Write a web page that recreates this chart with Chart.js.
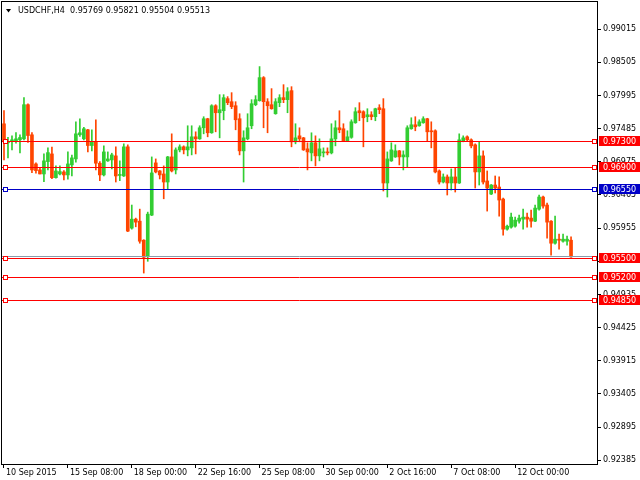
<!DOCTYPE html>
<html>
<head>
<meta charset="utf-8">
<title>USDCHF H4</title>
<script src="https://cdn.jsdelivr.net/npm/chart.js@4.4.0/dist/chart.umd.min.js"></script>
<style>
  html, body { margin: 0; padding: 0; background: #fff; }
  #wrap { width: 640px; height: 480px; }
</style>
</head>
<body>
<div id="wrap"><canvas id="myChart" width="640" height="480"></canvas></div>
<script>
const symbolTitle = "USDCHF,H4";

// H4 candles, 10 Sep 2015 16:00 .. 13 Oct 2015 08:00
const opens = [0.97559, 0.97267, 0.97287, 0.97298, 0.97313, 0.97328, 0.97853, 0.97390, 0.96942, 0.96850,
    0.96788, 0.96978, 0.97096, 0.96731, 0.96788, 0.96819, 0.96773, 0.96927, 0.97019, 0.97390,
    0.97328, 0.97467, 0.97225, 0.97287, 0.96953, 0.96773, 0.96989, 0.97004, 0.97066, 0.96765,
    0.96757, 0.97205, 0.95955, 0.96093, 0.96062, 0.95769, 0.95523, 0.96155, 0.96958, 0.96834,
    0.96788, 0.96664, 0.97050, 0.96850, 0.97158, 0.97205, 0.97158, 0.97189, 0.97359, 0.97328,
    0.97498, 0.97637, 0.97421, 0.97837, 0.97729, 0.97760, 0.97946, 0.97899, 0.97837, 0.97637,
    0.97143, 0.97328, 0.97529, 0.97853, 0.97915, 0.98269, 0.97899, 0.97853, 0.97714, 0.97884,
    0.97961, 0.97930, 0.98069, 0.97282, 0.97374, 0.97343, 0.97174, 0.97112, 0.97267, 0.97066,
    0.97112, 0.97127, 0.97112, 0.97328, 0.97498, 0.97483, 0.97298, 0.97351, 0.97575, 0.97760,
    0.97745, 0.97668, 0.97698, 0.97668, 0.97807, 0.97791, 0.96649, 0.96989, 0.97050, 0.97143,
    0.97050, 0.97050, 0.97483, 0.97544, 0.97529, 0.97575, 0.97637, 0.97452, 0.97452, 0.96834,
    0.96664, 0.96742, 0.96649, 0.96742, 0.96649, 0.97298, 0.97359, 0.97313, 0.97236, 0.96819,
    0.97066, 0.96680, 0.96479, 0.96618, 0.96587, 0.96402, 0.95939, 0.95970, 0.95985, 0.96062,
    0.96093, 0.96124, 0.96109, 0.96062, 0.96247, 0.96433, 0.96310, 0.96062, 0.95723, 0.95785,
    0.95754, 0.95754, 0.95769];
const highs = [0.97761, 0.97351, 0.97374, 0.97425, 0.97390, 0.97961, 0.97868, 0.97425, 0.96958, 0.96885,
    0.97096, 0.97189, 0.97200, 0.96912, 0.96912, 0.96839, 0.97127, 0.97077, 0.97590, 0.97637,
    0.97503, 0.97475, 0.97467, 0.97621, 0.96978, 0.97220, 0.97127, 0.97107, 0.97205, 0.96989,
    0.97251, 0.97236, 0.96310, 0.96109, 0.96247, 0.95777, 0.96201, 0.97050, 0.97019, 0.96842,
    0.96912, 0.97058, 0.97405, 0.97189, 0.97236, 0.97220, 0.97529, 0.97529, 0.97436, 0.97529,
    0.97668, 0.97644, 0.97853, 0.97853, 0.98007, 0.98007, 0.97977, 0.98038, 0.97899, 0.97714,
    0.97452, 0.97714, 0.97930, 0.97992, 0.98439, 0.98285, 0.97946, 0.98100, 0.97946, 0.98007,
    0.98161, 0.98115, 0.98130, 0.97560, 0.97498, 0.97351, 0.97267, 0.97421, 0.97374, 0.97328,
    0.97189, 0.97189, 0.97560, 0.97606, 0.97760, 0.97560, 0.97452, 0.97621, 0.97807, 0.97884,
    0.97760, 0.97791, 0.97745, 0.97799, 0.97853, 0.97946, 0.97127, 0.97267, 0.97236, 0.97150,
    0.97143, 0.97529, 0.97652, 0.97668, 0.97621, 0.97668, 0.97644, 0.97590, 0.97467, 0.96850,
    0.96788, 0.96773, 0.96865, 0.96881, 0.97405, 0.97374, 0.97374, 0.97328, 0.97251, 0.97282,
    0.97143, 0.96834, 0.96626, 0.96757, 0.96742, 0.96417, 0.96001, 0.96186, 0.96124, 0.96155,
    0.96247, 0.96186, 0.96232, 0.96310, 0.96464, 0.96448, 0.96340, 0.96070, 0.96140, 0.95862,
    0.95862, 0.95831, 0.95821];
const lows = [0.97004, 0.97035, 0.97158, 0.97262, 0.97112, 0.97313, 0.97271, 0.96808, 0.96799, 0.96788,
    0.96669, 0.96850, 0.96716, 0.96722, 0.96773, 0.96695, 0.96706, 0.96757, 0.96969, 0.97364,
    0.97313, 0.97127, 0.97143, 0.96850, 0.96685, 0.96757, 0.96981, 0.96865, 0.96664, 0.96685,
    0.96749, 0.95901, 0.95939, 0.95975, 0.95723, 0.95264, 0.95445, 0.96147, 0.96804, 0.96711,
    0.96406, 0.96557, 0.96819, 0.96788, 0.97127, 0.97096, 0.97066, 0.97081, 0.97096, 0.97320,
    0.97405, 0.97359, 0.97413, 0.97436, 0.97343, 0.97621, 0.97853, 0.97791, 0.97467, 0.97081,
    0.96664, 0.97313, 0.97483, 0.97837, 0.97907, 0.97498, 0.97421, 0.97783, 0.97706, 0.97822,
    0.97884, 0.97729, 0.97205, 0.97251, 0.97282, 0.97150, 0.96850, 0.96989, 0.96912, 0.96989,
    0.97050, 0.97081, 0.97096, 0.97220, 0.97421, 0.97290, 0.97290, 0.97336, 0.97567, 0.97606,
    0.97205, 0.97590, 0.97621, 0.97606, 0.97714, 0.96526, 0.96433, 0.96981, 0.97042, 0.96927,
    0.96850, 0.96896, 0.97475, 0.97452, 0.97521, 0.97567, 0.97298, 0.97189, 0.96804, 0.96633,
    0.96649, 0.96464, 0.96541, 0.96510, 0.96641, 0.97282, 0.97298, 0.97189, 0.96572, 0.96618,
    0.96633, 0.96217, 0.96471, 0.96495, 0.96140, 0.95846, 0.95924, 0.95955, 0.95970, 0.96031,
    0.95939, 0.95970, 0.95970, 0.96054, 0.96232, 0.96263, 0.95800, 0.95538, 0.95708, 0.95630,
    0.95739, 0.95692, 0.95504];
const closes = [0.97282, 0.97290, 0.97313, 0.97328, 0.97348, 0.97853, 0.97379, 0.96850, 0.96839, 0.96788,
    0.96989, 0.97116, 0.96731, 0.96834, 0.96824, 0.96773, 0.96942, 0.97035, 0.97405, 0.97421,
    0.97483, 0.97225, 0.97287, 0.96953, 0.96773, 0.97127, 0.97019, 0.97081, 0.96757, 0.96773,
    0.97205, 0.95909, 0.96093, 0.96047, 0.95754, 0.95507, 0.96170, 0.96804, 0.96819, 0.96773,
    0.96664, 0.97050, 0.96834, 0.97158, 0.97205, 0.97158, 0.97205, 0.97359, 0.97328, 0.97498,
    0.97637, 0.97421, 0.97837, 0.97729, 0.97776, 0.97961, 0.97884, 0.97822, 0.97621, 0.97143,
    0.97343, 0.97498, 0.97868, 0.97930, 0.98269, 0.97899, 0.97837, 0.97791, 0.97899, 0.97961,
    0.97930, 0.98053, 0.97282, 0.97343, 0.97328, 0.97158, 0.97127, 0.97267, 0.97066, 0.97174,
    0.97127, 0.97112, 0.97328, 0.97498, 0.97467, 0.97298, 0.97359, 0.97590, 0.97745, 0.97729,
    0.97652, 0.97698, 0.97668, 0.97791, 0.97776, 0.96649, 0.97019, 0.97158, 0.97143, 0.97050,
    0.97081, 0.97498, 0.97544, 0.97513, 0.97590, 0.97637, 0.97436, 0.97436, 0.96819, 0.96664,
    0.96742, 0.96649, 0.96742, 0.96649, 0.97313, 0.97343, 0.97313, 0.97220, 0.96819, 0.97066,
    0.96664, 0.96572, 0.96618, 0.96572, 0.96387, 0.95939, 0.95985, 0.96124, 0.96078, 0.96109,
    0.96124, 0.96093, 0.96062, 0.96263, 0.96433, 0.96294, 0.96047, 0.95723, 0.95785, 0.95769,
    0.95785, 0.95785, 0.95513];

const xTickLabels = ["10 Sep 2015", "15 Sep 08:00", "18 Sep 00:00", "22 Sep 16:00", "25 Sep 08:00",
    "30 Sep 00:00", "2 Oct 16:00", "7 Oct 08:00", "12 Oct 00:00"];
const yTickValues = [0.99015, 0.98505, 0.97995, 0.97485, 0.96975, 0.96465, 0.95955, 0.95445,
    0.94935, 0.94425, 0.93915, 0.93405, 0.92895, 0.92385];
const levelPrices = [0.97300, 0.96900, 0.96550, 0.95500, 0.95200, 0.94850];
const levelColors = ["#ff0000", "#ff0000", "#0000c8", "#ff0000", "#ff0000", "#ff0000"];

const yMin = 0.92328;
const yMax = 0.99432;
const slotCount = 149;      // visible bar slots (chart shift on the right)
const candlesPerLabel = 16;

const bullColor = "#32cd32";
const bearColor = "#ff4500";
const bidPrice = closes[closes.length - 1];

const slots = [];
for (let i = 0; i < slotCount; i++) {
    slots.push(i);
}
const bodyData = opens.map((o, i) => [o, closes[i]]);
const wickData = lows.map((l, i) => [l, highs[i]]);
const candleColors = opens.map((o, i) => closes[i] >= o ? bullColor : bearColor);

function fmt(v) {
    return Number(v).toFixed(5);
}

// level lines, price boxes, frame and header text in MT4 style
const terminalOverlay = {
    id: 'terminalOverlay',
    afterDatasetsDraw(chart) {
        const {ctx, chartArea: area, scales: {y}} = chart;
        ctx.save();
        ctx.lineWidth = 1;

        const bidY = Math.round(y.getPixelForValue(bidPrice)) - 0.5;
        ctx.strokeStyle = "#8a9bab";
        ctx.beginPath();
        ctx.moveTo(area.left, bidY);
        ctx.lineTo(area.right, bidY);
        ctx.stroke();

        levelPrices.forEach((price, k) => {
            const py = Math.round(y.getPixelForValue(price)) + 0.5;
            ctx.strokeStyle = levelColors[k];
            ctx.beginPath();
            ctx.moveTo(area.left, py);
            ctx.lineTo(area.right, py);
            ctx.stroke();
            ctx.fillStyle = "#fff";
            ctx.fillRect(area.left + 1, py - 2, 4, 4);
            ctx.fillRect(area.right - 5, py - 2, 4, 4);
            ctx.strokeRect(area.left + 1.5, py - 2, 4, 4);
            ctx.strokeRect(area.right - 4.5, py - 2, 4, 4);
        });
        ctx.restore();
    },
    afterDraw(chart) {
        const {ctx, chartArea: area, scales: {y}} = chart;
        ctx.save();

        ctx.strokeStyle = "#000";
        ctx.lineWidth = 1;
        ctx.strokeRect(area.left - 0.5, area.top - 0.5, area.right - area.left + 1, area.bottom - area.top + 1);

        ctx.font = "8px 'DejaVu Sans'";
        ctx.textBaseline = "middle";
        ctx.textAlign = "left";
        levelPrices.forEach((price, k) => {
            const py = Math.round(y.getPixelForValue(price));
            ctx.fillStyle = levelColors[k];
            ctx.fillRect(area.right + 2, py - 5, chart.width - area.right - 2, 10);
            ctx.fillStyle = "#fff";
            ctx.fillText(fmt(price), area.right + 6, py + 0.5);
        });

        // header
        ctx.fillStyle = "#000";
        ctx.beginPath();
        ctx.moveTo(area.left + 4, area.top + 7);
        ctx.lineTo(area.left + 9, area.top + 7);
        ctx.lineTo(area.left + 6.5, area.top + 10.5);
        ctx.closePath();
        ctx.fill();
        const last = opens.length - 1;
        const header = symbolTitle + "  " + fmt(opens[last]) + " " + fmt(highs[last]) + " " +
            fmt(lows[last]) + " " + fmt(closes[last]);
        ctx.fillText(header, area.left + 16, area.top + 9);
        ctx.restore();
    }
};

Chart.defaults.font.family = "'DejaVu Sans'";
Chart.defaults.font.size = 8;
Chart.defaults.color = "#000";

const ctx = document.getElementById('myChart').getContext('2d');
new Chart(ctx, {
    type: 'bar',
    data: {
        labels: slots,
        datasets: [{
            label: 'body',
            data: bodyData,
            backgroundColor: candleColors,
            borderWidth: 0,
            barThickness: 3,
            minBarLength: 1,
            grouped: false,
            order: 0
        }, {
            label: 'wick',
            data: wickData,
            backgroundColor: candleColors,
            borderWidth: 0,
            barThickness: 1,
            grouped: false,
            order: 1
        }]
    },
    options: {
        responsive: false,
        animation: false,
        layout: {
            padding: {left: 2, top: 2, right: 0, bottom: 0}
        },
        plugins: {
            legend: {display: false},
            tooltip: {enabled: false}
        },
        scales: {
            x: {
                type: 'category',
                offset: true,
                afterFit: scale => {
                    scale.height = 16;
                    scale.paddingLeft = 0;
                    scale.paddingRight = 0;
                },
                grid: {
                    drawOnChartArea: false,
                    offset: false,
                    tickLength: 4,
                    color: c => (c.index % candlesPerLabel === 0 && c.index / candlesPerLabel < xTickLabels.length) ? '#000' : 'rgba(0,0,0,0)'
                },
                border: {color: '#000'},
                ticks: {
                    autoSkip: false,
                    maxRotation: 0,
                    minRotation: 0,
                    align: 'start',
                    labelOffset: 2,
                    padding: 0,
                    color: '#000',
                    callback: (v, i) => i % candlesPerLabel === 0 ? (xTickLabels[i / candlesPerLabel] || '') : ''
                }
            },
            y: {
                type: 'linear',
                position: 'right',
                min: yMin,
                max: yMax,
                afterBuildTicks: scale => {
                    scale.ticks = yTickValues.map(v => ({value: v}));
                },
                afterFit: scale => {
                    scale.width = 43;
                    scale.paddingTop = 0;
                    scale.paddingBottom = 0;
                },
                grid: {
                    drawOnChartArea: false,
                    tickLength: 4,
                    color: '#000'
                },
                border: {color: '#000'},
                ticks: {
                    autoSkip: false,
                    padding: 2,
                    color: '#000',
                    callback: v => fmt(v)
                }
            }
        }
    },
    plugins: [terminalOverlay]
});
</script>
</body>
</html>
